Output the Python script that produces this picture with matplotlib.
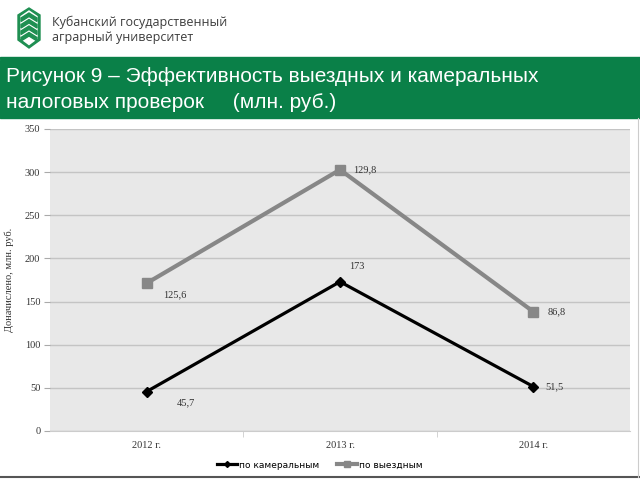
import numpy as np
import matplotlib.pyplot as plt
from matplotlib.patches import Rectangle, Polygon
from matplotlib.lines import Line2D

years = ['2012 г.', '2013 г.', '2014 г.']
kameral = [45.7, 173, 51.5]
vyezd = [125.6, 129.8, 86.8]
yticks = [0, 50, 100, 150, 200, 250, 300, 350]

W, H = 640, 480
fig = plt.figure(figsize=(6.4, 4.8), dpi=100)
fig.patch.set_facecolor('white')

def fx(px):
    return px / W

def fy(py):
    return 1 - py / H

def poly(pts, color, z=2):
    fig.patches.append(Polygon([(fx(a), fy(b)) for a, b in pts], closed=True,
                               transform=fig.transFigure, color=color, zorder=z))

green = '#0a8048'
lgreen = '#1f8f52'

# header: logo + university name
fig.patches.append(Rectangle((0, fy(59)), 1, 2 / H, transform=fig.transFigure,
                             color=green, zorder=1))
# shield outline
poly([(29, 8), (40, 15), (40, 40), (29, 48), (18, 40), (18, 15)], lgreen)
poly([(29, 11), (37, 16.5), (37, 38.5), (29, 44.5), (21, 38.5), (21, 16.5)], 'white', 3)
# chevron stripes inside
for i in range(4):
    yy = 14 + i * 6.5
    poly([(21, yy + 4), (29, yy - 1), (37, yy + 4), (37, yy + 7.5),
          (29, yy + 2.5), (21, yy + 7.5)], lgreen, 4)
fig.text(fx(52), fy(22), 'Кубанский государственный', fontsize=9,
         family='Open Sans', color='#3c3c3c', va='center')
fig.text(fx(52), fy(37), 'аграрный университет', fontsize=9,
         family='Open Sans', color='#3c3c3c', va='center')

# green title band
fig.patches.append(Rectangle((0, fy(118)), 1, 58 / H, transform=fig.transFigure,
                             color=green, zorder=1))
fig.text(fx(6), fy(76), 'Рисунок 9 – Эффективность выездных и камеральных',
         fontsize=15, family='Liberation Sans', color='white', va='center')
fig.text(fx(6), fy(103), 'налоговых проверок     (млн. руб.)',
         fontsize=15, family='Liberation Sans', color='white', va='center')

# chart frame lines
fig.lines.append(Line2D([0, 1], [fy(477), fy(477)], transform=fig.transFigure,
                        color='#555555', lw=1.5))
fig.lines.append(Line2D([fx(638), fx(638)], [fy(118), fy(477)],
                        transform=fig.transFigure, color='#cccccc', lw=0.8))

ax = fig.add_axes([fx(50), fy(431), fx(630) - fx(50), (431 - 129) / H])
ax.set_facecolor('#e8e8e8')

x = np.arange(len(years))
top = np.add(kameral, vyezd)

ax.plot(x, top, color='#878787', lw=3, marker='s', ms=7, zorder=3,
        label='по выездным')
ax.plot(x, kameral, color='black', lw=2.3, marker='D', ms=5, zorder=4,
        label='по камеральным')

def fmt(v):
    return ('%g' % v).replace('.', ',')

serif = 'Liberation Serif'
lab = dict(textcoords='offset points', fontsize=7.5, family=serif,
           color='#333333', ha='center', va='center')
ax.annotate(fmt(kameral[0]), (x[0], kameral[0]), xytext=(28, -8), **lab)
ax.annotate(fmt(kameral[1]), (x[1], kameral[1]), xytext=(12, 11), **lab)
ax.annotate(fmt(kameral[2]), (x[2], kameral[2]), xytext=(15, 0), **lab)
ax.annotate(fmt(vyezd[0]), (x[0], top[0]), xytext=(20, -8), **lab)
ax.annotate(fmt(vyezd[1]), (x[1], top[1]), xytext=(18, 0), **lab)
ax.annotate(fmt(vyezd[2]), (x[2], top[2]), xytext=(17, 0), **lab)

ax.set_xlim(-0.5, 2.5)
ax.set_ylim(0, 350)
ax.set_yticks(yticks)
ax.set_yticklabels([str(t) for t in yticks], family=serif, fontsize=7.5, color='#333333')
ax.yaxis.grid(True, color='#c4c4c4', lw=1)
ax.set_axisbelow(True)
ax.set_xticks(x)
ax.set_xticklabels(years, family=serif, fontsize=7.5, color='#333333')
ax.set_xticks([0.5, 1.5], minor=True)
ax.tick_params(axis='x', which='major', length=0, pad=7)
ax.tick_params(axis='x', which='minor', length=4, color='#cccccc')
ax.tick_params(axis='y', length=4, color='#aaaaaa', pad=3)
for s in ['top', 'right', 'left']:
    ax.spines[s].set_visible(False)
ax.spines['bottom'].set_color('#cccccc')
ax.set_ylabel('Доначислено, млн. руб.', family=serif, fontsize=7.5, color='#333333',
              labelpad=8)

h, l = ax.get_legend_handles_labels()
fig.legend(h[::-1], l[::-1], loc='center', bbox_to_anchor=(0.5, fy(465)), ncol=2,
           frameon=False, handlelength=2.2, handletextpad=0.2,
           columnspacing=2, markerscale=0.6, prop={'family': 'DejaVu Sans', 'size': 6.5})

fig.savefig('out.png', dpi=100)
